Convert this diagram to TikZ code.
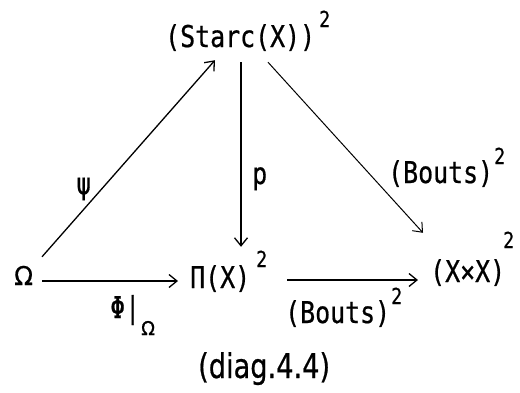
\documentclass[tikz,border=0pt]{standalone}
\usepackage{fontspec}
\usetikzlibrary{arrows.meta}
\newfontfamily\monofnt[FakeStretch=0.83,FakeBold=0.6]{DejaVu Sans Mono}
\newfontfamily\capfnt[FakeStretch=0.8,FakeBold=0.6]{DejaVu Sans}
\newfontfamily\omfnt[FakeStretch=0.95,FakeBold=0.6]{DejaVu Sans}
\begin{document}
\begin{tikzpicture}[x=1pt,y=-1pt,
  obj/.style={inner sep=0pt,anchor=base west,font=\monofnt\fontsize{30}{32}\selectfont,text height=22pt,text depth=4pt},
  lab/.style={inner sep=0pt,anchor=base west,font=\monofnt\fontsize{30}{32}\selectfont},
  sup/.style={inner sep=0pt,anchor=base west,font=\monofnt\fontsize{22}{24}\selectfont},
  sub/.style={inner sep=0pt,anchor=base west,font=\omfnt\fontsize{19}{21}\selectfont},
  arr/.style={-{Straight Barb[length=8pt,width=13pt]},line width=1.3pt},
  thinarr/.style={-{Straight Barb[length=8pt,width=13pt]},line width=1pt}]
\useasboundingbox (0,0) rectangle (520,392);
% objects
\node[obj] (S) at (165,47) {(Starc(X))};
\node[sup] (S2) at (319,27) {2};
\node[obj,font=\omfnt\fontsize{26}{28}\selectfont] (Om) at (14,285) {Ω};
\node[obj] (Pi) at (190,288) {Π(X)};
\node[sup] (Pi2) at (256,267) {2};
\node[obj] (XX) at (430,282) {(X×X)};
\node[sup] (XX2) at (503,248) {2};
% labels
\node[lab] (psi) at (76,194) {ψ};
\node[lab] (p) at (252,184) {p};
\node[lab] (br) at (388,183) {(Bouts)};
\node[sup] (br2) at (494,164) {2};
\node[lab] (phi) at (110,318) {Φ|};
\node[sub] (phis) at (141,335) {Ω};
\node[lab] (bb) at (285,323) {(Bouts)};
\node[sup] (bb2) at (391,304) {2};
\node[inner sep=0pt,anchor=base west,font=\capfnt\fontsize{34}{36}\selectfont] (cap) at (198,378) {(diag.4.4)};
% connectors
\draw[arr] ([shift={(28,-6)}]Om.north west) -- ([shift={(50,9)}]S.south west);
\draw[arr] ([shift={(76,11)}]S.south west) -- ([shift={(51,-19)}]Pi.north west);
\draw[thinarr] ([shift={(103,11)}]S.south west) -- ([shift={(-7,-27)}]XX.north west);
\draw[arr] ([shift={(28,-4)}]Om.base west) -- ([shift={(-12,-7)}]Pi.base west);
\draw[arr] ([shift={(97,-8)}]Pi.base west) -- ([shift={(-12,-2)}]XX.base west);
\end{tikzpicture}
\end{document}
